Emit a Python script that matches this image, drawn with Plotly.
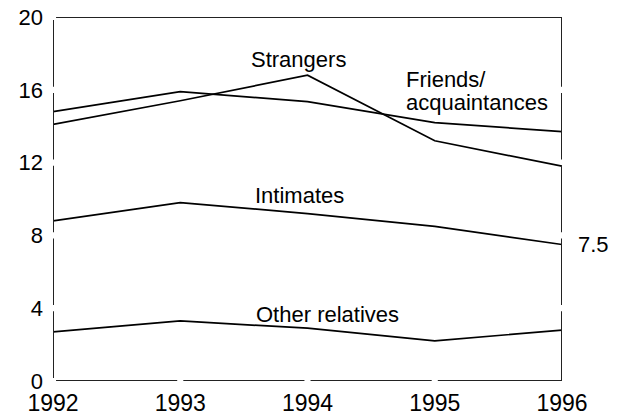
import plotly.graph_objects as go

years = [1992, 1993, 1994, 1995, 1996]
strangers = [14.1, 15.4, 16.8, 13.2, 11.8]
friends = [14.8, 15.9, 15.35, 14.2, 13.7]
intimates = [8.8, 9.8, 9.2, 8.5, 7.5]
other_relatives = [2.7, 3.3, 2.9, 2.2, 2.8]

y_ticks = [0, 4, 8, 12, 16, 20]
x_ticks = years
end_label = "7.5"

FONT = "Liberation Sans, Arial, sans-serif"
LINE = dict(color="black", width=1.7)

fig = go.Figure()
for name, vals in [("Strangers", strangers), ("Friends/acquaintances", friends),
                   ("Intimates", intimates), ("Other relatives", other_relatives)]:
    fig.add_trace(go.Scatter(x=years, y=vals, mode="lines", name=name, line=LINE,
                             showlegend=False, hoverinfo="skip"))

# Frame with small gaps at tick positions
gy = 0.17
gx = 0.024
frame = dict(color="#222222", width=2)
shapes = []
x0, x1 = x_ticks[0], x_ticks[-1]
y0, y1 = y_ticks[0], y_ticks[-1]
for a, b in zip(y_ticks[:-1], y_ticks[1:]):
    shapes.append(dict(type="line", xref="x", yref="y", x0=x0, x1=x0, y0=a + gy, y1=b - gy, line=frame))
    ra = a + gy if a != y0 else a
    rb = b - gy if b != y1 else b
    shapes.append(dict(type="line", xref="x", yref="y", x0=x1, x1=x1, y0=ra, y1=rb, line=frame))
for a, b in zip(x_ticks[:-1], x_ticks[1:]):
    ba = a + gx
    bb = b - gx if b != x1 else b
    shapes.append(dict(type="line", xref="x", yref="y", x0=ba, x1=bb, y0=y0, y1=y0, line=frame))
shapes.append(dict(type="line", xref="x", yref="y", x0=x0 + gx, x1=x1, y0=y1, y1=y1, line=frame))

ann_font = dict(family=FONT, size=22, color="black")
annotations = [
    dict(x=1993.933, y=17.65, text="Strangers", xanchor="center", yanchor="middle"),
    dict(x=1994.758, y=16.54, text="Friends/", xanchor="left", yanchor="middle"),
    dict(x=1994.758, y=15.30, text="acquaintances", xanchor="left", yanchor="middle"),
    dict(x=1993.941, y=10.19, text="Intimates", xanchor="center", yanchor="middle"),
    dict(x=1994.161, y=3.65, text="Other relatives", xanchor="center", yanchor="middle"),
]
for a in annotations:
    a.update(xref="x", yref="y", showarrow=False, font=ann_font)
# end-value label sits outside the plot area, so place it in paper x coordinates
annotations.append(dict(x=1.027, xref="paper", y=intimates[-1], yref="y", text=end_label,
                        xanchor="left", yanchor="middle", showarrow=False, font=ann_font))

fig.update_layout(
    width=618, height=416,
    margin=dict(l=53, r=56, t=17, b=35),
    paper_bgcolor="white", plot_bgcolor="white",
    shapes=shapes, annotations=annotations,
    xaxis=dict(range=[x0, x1], tickvals=x_ticks, ticktext=[str(v) for v in x_ticks],
               showgrid=False, zeroline=False, showline=False, ticks="", automargin=False,
               tickfont=dict(family=FONT, size=23, color="black"), ticklabelstandoff=6),
    yaxis=dict(range=[y0, y1], tickvals=y_ticks, ticktext=[str(v) for v in y_ticks],
               showgrid=False, zeroline=False, showline=False, ticks="", automargin=False,
               tickfont=dict(family=FONT, size=22, color="black"), ticklabelstandoff=9),
)

fig.write_html("out.html", config={"displayModeBar": False},
               post_script="document.body.style.margin='0';document.body.style.overflow='hidden';")
